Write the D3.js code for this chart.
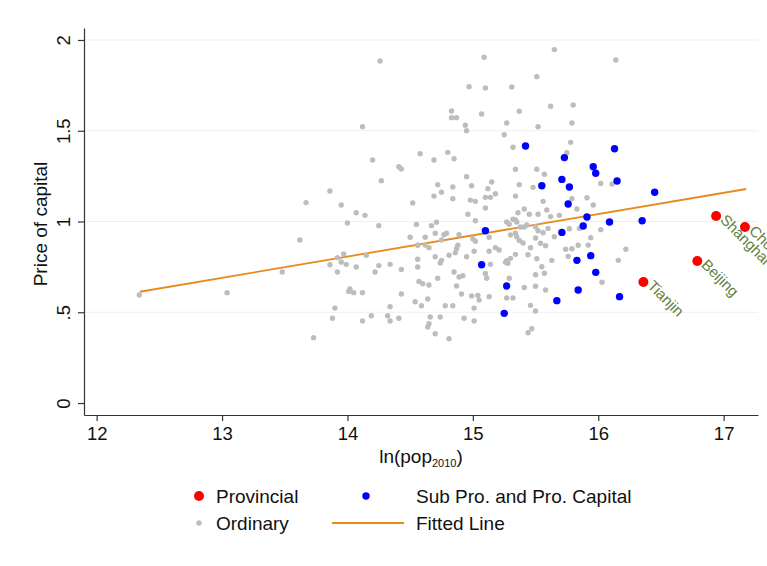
<!DOCTYPE html>
<html>
<head>
<meta charset="utf-8">
<script src="https://cdn.jsdelivr.net/npm/d3@7"></script>
<style>
  body { margin: 0; background: #fff; }
  svg text { font-family: "Liberation Sans", Arial, Helvetica, sans-serif; fill: #111; }
</style>
</head>
<body>
<svg width="767" height="566"></svg>
<script>
// ln(pop2010), price of capital
var ordinary = [
  [14.26,1.884],[14.12,1.522],[14.20,1.339],[14.41,1.302],[14.43,1.289],[14.27,1.225],[13.86,1.168],[13.67,1.104],
  [13.95,1.091],[14.52,1.102],[14.07,1.048],[14.14,1.034],[14.00,0.992],[14.25,0.977],[14.55,0.984],[13.62,0.898],
  [14.50,0.913],[13.97,0.821],[13.92,0.801],[13.95,0.777],[13.86,0.762],[13.99,0.764],[14.07,0.749],[14.15,0.814],
  [14.25,0.757],[14.34,0.764],[14.22,0.722],[14.43,0.736],[14.56,0.792],[14.56,0.749],[14.56,0.869],[13.48,0.722],
  [13.92,0.722],[13.04,0.608],[12.34,0.595],[14.02,0.628],[14.01,0.615],[14.05,0.608],[14.12,0.608],[14.43,0.601],
  [14.54,0.558],[14.57,0.670],[13.90,0.523],[14.34,0.531],[13.88,0.467],[14.12,0.452],[14.19,0.481],[14.32,0.481],
  [14.34,0.452],[14.41,0.467],[13.73,0.360],
  [15.09,1.905],[14.97,1.743],[15.10,1.736],[14.83,1.609],[14.83,1.572],[14.87,1.572],[15.07,1.592],[14.94,1.530],
  [14.95,1.500],[14.58,1.373],[14.69,1.339],[14.80,1.381],[14.85,1.346],[14.95,1.247],[14.72,1.203],[14.84,1.190],
  [14.99,1.197],[15.15,1.218],[15.12,1.181],[15.18,1.153],[14.75,1.161],[14.69,1.140],
  [14.84,1.126],[14.98,1.118],[15.02,1.111],[15.10,1.133],[15.14,1.133],[15.10,1.074],[14.96,1.040],[15.02,1.004],
  [14.67,0.977],[14.71,0.996],[14.70,0.935],[14.77,0.927],[14.79,0.935],[14.89,0.927],[14.62,0.913],[14.56,0.870],
  [14.62,0.870],[14.75,0.898],[14.65,0.856],[15.00,0.905],[15.02,0.891],[15.13,0.913],[15.18,0.856],[15.21,0.843],
  [15.13,0.836],[14.88,0.869],[14.87,0.850],[14.86,0.828],[15.01,0.836],[14.81,0.814],[14.95,0.806],[14.70,0.806],
  [14.75,0.786],[14.74,0.771],[15.10,0.714],[15.11,0.687],[15.14,0.764],[14.85,0.722],[14.92,0.701],[14.89,0.694],
  [14.72,0.687],[14.60,0.657],[14.65,0.650],[14.87,0.645],[14.91,0.601],[14.99,0.590],[15.04,0.593],[15.05,0.567],
  [15.13,0.586],[14.59,0.536],[14.64,0.573],[14.78,0.536],[14.84,0.536],[15.01,0.523],[14.66,0.474],[14.74,0.474],
  [14.93,0.467],[15.01,0.452],[14.65,0.437],[14.64,0.419],[14.70,0.382],[14.81,0.354],
  [15.65,1.947],[16.14,1.890],[15.51,1.798],[15.31,1.741],[15.62,1.635],[15.80,1.642],[15.37,1.607],[15.27,1.543],
  [15.79,1.543],[15.52,1.522],[15.25,1.478],[15.32,1.409],[15.78,1.436],[15.75,1.379],[15.34,1.288],[15.51,1.288],
  [15.57,1.260],[16.02,1.210],[16.11,1.207],[15.37,1.203],[15.48,1.188],[15.34,1.140],[15.56,1.111],[15.79,1.126],
  [15.91,1.131],[15.96,1.091],[15.41,1.069],[15.36,1.048],[15.45,1.040],[15.52,1.040],[15.59,1.063],[15.69,1.034],
  [15.62,1.027],[15.83,1.069],[15.32,1.012],[15.34,1.008],[15.35,0.997],[15.27,0.997],[15.29,0.985],[15.38,0.970],
  [15.41,0.970],[15.30,0.926],[15.34,0.935],[15.35,0.916],[15.43,0.981],[15.50,0.971],[15.52,0.949],[15.56,0.938],
  [15.60,0.962],[15.77,0.960],[15.85,0.962],[16.02,0.955],[15.37,0.896],[15.40,0.882],[15.50,0.909],[15.46,0.856],
  [15.54,0.880],[15.58,0.867],[15.65,0.916],[15.94,0.911],[15.92,0.870],[15.84,0.869],[15.74,0.847],[15.79,0.850],
  [16.22,0.847],[15.44,0.817],[15.34,0.819],[15.30,0.797],[15.27,0.784],[15.28,0.770],[15.26,0.775],[15.51,0.795],
  [15.63,0.786],[15.76,0.808],[16.16,0.786],[15.55,0.751],[15.57,0.715],[15.50,0.707],[15.29,0.687],[15.41,0.637],
  [15.50,0.643],[15.58,0.623],[16.03,0.665],[15.27,0.579],[15.32,0.579],[15.46,0.538],[15.50,0.507],[15.47,0.409],
  [15.44,0.387]
];

var capital = [
  [15.42,1.416],[16.13,1.401],[15.73,1.352],[15.96,1.302],[15.98,1.266],[15.71,1.232],[16.15,1.223],[15.55,1.197],
  [15.77,1.190],[16.45,1.161],[15.76,1.096],[15.91,1.025],[16.09,0.997],[16.35,1.004],[15.88,0.975],[15.10,0.949],
  [15.71,0.940],[15.07,0.762],[15.94,0.812],[15.83,0.786],[15.98,0.720],[15.27,0.645],[15.84,0.623],[16.17,0.586],
  [15.67,0.564],[15.25,0.494]
];

var provNames = ["Tianjin", "Beijing", "Shanghai", "Chongqing"];
var provX = [16.36, 16.79, 16.94, 17.17];
var provY = [0.667, 0.782, 1.030, 0.970];

var fitX = [12.345, 17.18];
var fitY = [0.613, 1.179];

var xTicks = [12, 13, 14, 15, 16, 17];
var yTicks = [0, 0.5, 1, 1.5, 2];
var yTickLabels = ["0", ".5", "1", "1.5", "2"];

var svg = d3.select("svg");
var x = d3.scaleLinear().domain([11.899, 17.274]).range([84, 758]);
var y = d3.scaleLinear().domain([-0.066, 2.066]).range([415, 28]);

// gridlines
svg.append("g").selectAll("line")
  .data(yTicks.filter(function(d){ return d > 0; }))
  .enter().append("line")
  .attr("x1", 84).attr("x2", 758)
  .attr("y1", function(d){ return y(d); })
  .attr("y2", function(d){ return y(d); })
  .style("stroke", "#e9f1f4")
  .style("stroke-width", 1.2);

// axes
var xAxis = svg.append("g").attr("transform", "translate(0,415)")
  .call(d3.axisBottom(x).tickValues(xTicks).tickSize(6).tickSizeOuter(0).tickFormat(d3.format("d")));
var yAxis = svg.append("g").attr("transform", "translate(84,0)")
  .call(d3.axisLeft(y).tickValues(yTicks).tickSize(6).tickSizeOuter(0)
    .tickFormat(function(d, i){ return yTickLabels[i]; }));

[xAxis, yAxis].forEach(function(g){
  g.select(".domain").style("stroke", "#333").style("stroke-width", 1.2);
  g.selectAll(".tick line").style("stroke", "#333").style("stroke-width", 1.2);
  g.selectAll(".tick text").style("font-size", "18.5px")
    .style("font-family", '"Liberation Sans", Arial, sans-serif').style("fill", "#111");
});
xAxis.selectAll(".tick text").attr("y", 12).attr("dy", "0.71em");
yAxis.selectAll(".tick text")
  .attr("x", null).attr("dy", null)
  .attr("text-anchor", "middle")
  .attr("transform", "translate(-14,0) rotate(-90)");

// axis titles
svg.append("text")
  .attr("transform", "translate(47,224) rotate(-90)")
  .attr("text-anchor", "middle")
  .style("font-size", "19px")
  .text("Price of capital");

var xt = svg.append("text")
  .attr("x", 421).attr("y", 463)
  .attr("text-anchor", "middle")
  .style("font-size", "19px");
xt.append("tspan").text("ln(pop");
xt.append("tspan").attr("dy", 4).style("font-size", "11px").text("2010");
xt.append("tspan").attr("dy", -4).text(")");

// fitted line
var plot = svg.append("g");
plot.append("path")
  .datum(d3.zip(fitX, fitY))
  .attr("d", d3.line().x(function(d){ return x(d[0]); }).y(function(d){ return y(d[1]); }))
  .style("fill", "none")
  .style("stroke", "#e8891c")
  .style("stroke-width", 1.8);

// ordinary cities
plot.append("g").selectAll("circle")
  .data(ordinary)
  .enter().append("circle")
  .attr("cx", function(d){ return x(d[0]); })
  .attr("cy", function(d){ return y(d[1]); })
  .attr("r", 2.7)
  .style("fill", "#bdbdbd");

// sub-provincial & provincial capitals
plot.append("g").selectAll("circle")
  .data(capital)
  .enter().append("circle")
  .attr("cx", function(d){ return x(d[0]); })
  .attr("cy", function(d){ return y(d[1]); })
  .attr("r", 3.7)
  .style("fill", "#0000ff");

// provincial-level cities
var prov = d3.range(provNames.length).map(function(i){
  return { name: provNames[i], x: provX[i], y: provY[i] };
});
plot.append("g").selectAll("circle")
  .data(prov)
  .enter().append("circle")
  .attr("cx", function(d){ return x(d.x); })
  .attr("cy", function(d){ return y(d.y); })
  .attr("r", 5)
  .style("fill", "#ff0000");

plot.append("g").selectAll("text")
  .data(prov)
  .enter().append("text")
  .attr("transform", function(d){
    return "translate(" + (x(d.x) + 7) + "," + (y(d.y) + 1) + ") rotate(45)";
  })
  .attr("dy", "0.35em")
  .style("font-size", "15px")
  .style("fill", "#5f7f3c")
  .text(function(d){ return d.name; });

// legend
var legend = svg.append("g").style("font-size", "19px");
var legItems = [
  { label: "Provincial", kind: "dot", color: "#ff0000", r: 5, lx: 199, tx: 216, ly: 496 },
  { label: "Sub Pro. and Pro. Capital", kind: "dot", color: "#0000ff", r: 3.7, lx: 366, tx: 416, ly: 496 },
  { label: "Ordinary", kind: "dot", color: "#bdbdbd", r: 2.7, lx: 199, tx: 216, ly: 523 },
  { label: "Fitted Line", kind: "line", color: "#e8891c", lx: 368, tx: 416, ly: 523 }
];
legItems.forEach(function(it){
  if (it.kind === "dot") {
    legend.append("circle").attr("cx", it.lx).attr("cy", it.ly).attr("r", it.r).style("fill", it.color);
  } else {
    legend.append("line").attr("x1", 332).attr("x2", 404).attr("y1", it.ly).attr("y2", it.ly)
      .style("stroke", it.color).style("stroke-width", 1.8);
  }
  legend.append("text").attr("x", it.tx).attr("y", it.ly).attr("dy", "0.36em").text(it.label);
});
</script>
</body>
</html>
